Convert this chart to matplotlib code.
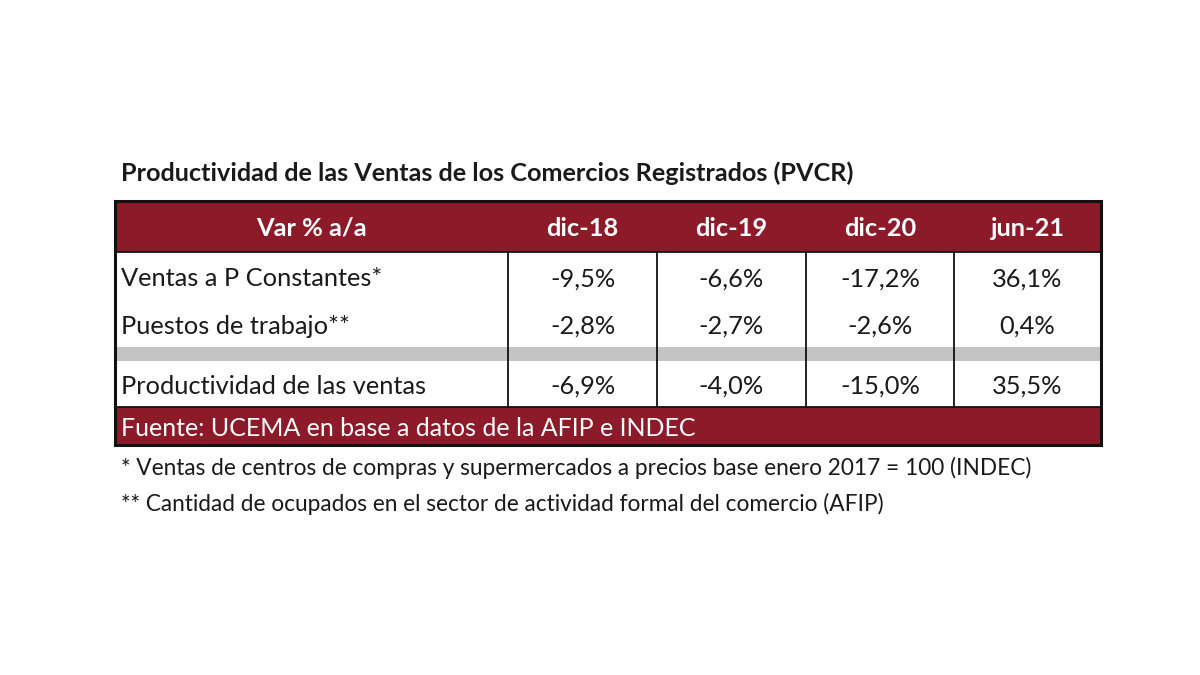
import matplotlib
matplotlib.use("Agg")
import matplotlib.pyplot as plt
from matplotlib.patches import Rectangle

TITLE = "Productividad de las Ventas de los Comercios Registrados (PVCR)"
HEADER_LABEL = "Var % a/a"
PERIODS = ["dic-18", "dic-19", "dic-20", "jun-21"]
ROW_LABELS = ["Ventas a P Constantes*", "Puestos de trabajo**", "Productividad de las ventas"]
VENTAS = [-9.5, -6.6, -17.2, 36.1]
PUESTOS = [-2.8, -2.7, -2.6, 0.4]
PRODUCTIVIDAD = [-6.9, -4.0, -15.0, 35.5]
SOURCE = "Fuente: UCEMA en base a datos de la AFIP e INDEC"
NOTES = [
    "* Ventas de centros de compras y supermercados a precios base enero 2017 = 100 (INDEC)",
    "** Cantidad de ocupados en el sector de actividad formal del comercio (AFIP)",
]

RED = "#8c1a29"
GRAY = "#c4c4c4"
FONT = "Lato"


def fmt(v):
    return f"{v:.1f}%".replace(".", ",")


fig = plt.figure(figsize=(12, 6.75), dpi=100)
ax = fig.add_axes([0, 0, 1, 1])
ax.set_xlim(0, 1200)
ax.set_ylim(675, 0)
ax.axis("off")

# table geometry (pixels)
left, right = 115, 1101
col_edges = [left, 508, 657, 806, 954, right]
top, head_bot = 201, 252
row_mid = [279, 326, 386]
gray_top, gray_bot = 347, 361
body_bot, foot_bot = 407, 445

ax.text(121, 173, TITLE, fontsize=18.2, fontweight="bold", family=FONT,
        color="#1a1a1a", va="center", ha="left")

# header
ax.add_patch(Rectangle((left, top), right - left, head_bot - top, color=RED, lw=0))
ax.text((col_edges[0] + col_edges[1]) / 2, (top + head_bot) / 2 + 2, HEADER_LABEL,
        fontsize=18.3, fontweight="bold", family=FONT, color="white", ha="center", va="center")
for i, p in enumerate(PERIODS):
    cx = (col_edges[i + 1] + col_edges[i + 2]) / 2
    ax.text(cx, (top + head_bot) / 2 + 2, p, fontsize=18.3, fontweight="bold", family=FONT,
            color="white", ha="center", va="center")

# gray separator band
ax.add_patch(Rectangle((left, gray_top), right - left, gray_bot - gray_top, color=GRAY, lw=0))

# body rows
rows = [VENTAS, PUESTOS, PRODUCTIVIDAD]
for label, vals, y in zip(ROW_LABELS, rows, row_mid):
    ax.text(121, y, label, fontsize=18.3, family=FONT, color="#1a1a1a", ha="left", va="center")
    for i, v in enumerate(vals):
        cx = (col_edges[i + 1] + col_edges[i + 2]) / 2
        ax.text(cx, y, fmt(v), fontsize=18.3, family=FONT, color="#1a1a1a",
                ha="center", va="center")

# vertical grid lines in body
for x in col_edges[1:-1]:
    ax.plot([x, x], [head_bot, body_bot], color="#111111", lw=1.3)

# footer
ax.add_patch(Rectangle((left, body_bot), right - left, foot_bot - body_bot, color=RED, lw=0))
ax.text(121, (body_bot + foot_bot) / 2 + 2, SOURCE, fontsize=18, family=FONT,
        color="white", ha="left", va="center")

# outer border and row separators
ax.add_patch(Rectangle((left, top), right - left, foot_bot - top, fill=False,
                       ec="#111111", lw=2.2))
ax.plot([left, right], [head_bot, head_bot], color="#111111", lw=1.3)
ax.plot([left, right], [body_bot, body_bot], color="#111111", lw=1.3)

# footnotes
ax.text(121, 468, NOTES[0], fontsize=16.3, family=FONT, color="#1a1a1a", ha="left", va="center")
ax.text(121, 504, NOTES[1], fontsize=16.3, family=FONT, color="#1a1a1a", ha="left", va="center")

fig.savefig("out.png", dpi=100)
plt.close(fig)
